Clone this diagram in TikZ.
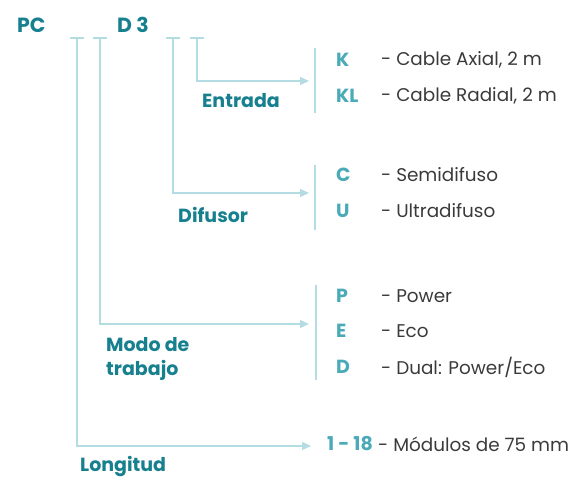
\documentclass[tikz,border=0pt]{standalone}
\usepackage{fontspec}
\setmainfont{Poppins}
\usetikzlibrary{arrows.meta}
\definecolor{tealdark}{HTML}{17808F}
\definecolor{teallight}{HTML}{4AAAB8}
\definecolor{linkblue}{HTML}{B3DCE3}
\definecolor{textgray}{HTML}{3A3A3A}

\begin{document}
\begin{tikzpicture}[x=1pt,y=-1pt,
        link/.style={linkblue,line width=1.4pt},
        linkarrow/.style={link,-{Triangle[length=9pt,width=8pt]}},
        head/.style={anchor=west,inner sep=0pt,font=\fontsize{20.5}{24}\selectfont\bfseries,text=tealdark},
        label/.style={anchor=west,inner sep=0pt,font=\fontsize{19}{24}\selectfont\bfseries,text=tealdark,align=left},
        code/.style={anchor=west,inner sep=0pt,font=\fontsize{19}{23}\selectfont\bfseries,text=teallight},
        desc/.style={anchor=west,inner sep=0pt,font=\fontsize{18.4}{23}\selectfont,text=textgray}]
                    \useasboundingbox (0,0) rectangle (576,479);
                    % code
                    \node[head] (pc) at (17,25) {PC};
                    \node[head] (dtres) at (117,25) {D 3};
                    % underscores
                    \foreach \name/\x in {lon/77,modo/100,dif/173,ent/197} {
                        \coordinate (\name) at (\x,38);
                        \draw[link] ([xshift=-7pt]\name) -- ([xshift=7pt]\name);
                    }
                    % arrow ends
                    \coordinate (entend) at (309,81);
                    \coordinate (difend) at (309,193);
                    \coordinate (modoend) at (309,324);
                    \coordinate (lonend) at (311,446);
                    \draw[linkarrow] (ent) |- (entend);
                    \draw[linkarrow] (dif) |- (difend);
                    \draw[linkarrow] (modo) |- (modoend);
                    \draw[linkarrow] (lon) |- (lonend);
                    % labels
                    \node[label] (entrada) at (202,101) {Entrada};
                    \node[label] (difusor) at (178,215) {Difusor};
                    \node[label] (modotrab) at (106,359) {Modo de\\trabajo};
                    \node[label] (longitud) at (80,466) {Longitud};
                    % brackets
                    \draw[link] (315,48) -- (315,113);
                    \draw[link] (315,165) -- (315,230);
                    \draw[link] (316,285) -- (316,380);
                    % options
                    \node[code] (k) at (336,60) {K};
                    \node[desc] (kdesc) at (381,60) {- Cable Axial, 2 m};
                    \node[code] (kl) at (336,96) {KL};
                    \node[desc] (kldesc) at (381,96) {- Cable Radial, 2 m};
                    \node[code] (c) at (336,175) {C};
                    \node[desc] (cdesc) at (381,175) {- Semidifuso};
                    \node[code] (u) at (336,211) {U};
                    \node[desc] (udesc) at (381,211) {- Ultradifuso};
                    \node[code] (p) at (336,296) {P};
                    \node[desc] (pdesc) at (381,296) {- Power};
                    \node[code] (e) at (336,331) {E};
                    \node[desc] (edesc) at (381,331) {- Eco};
                    \node[code] (d) at (336,367) {D};
                    \node[desc] (ddesc) at (381,367) {- Dual: Power/Eco};
                    \node[code] (len) at (327,444) {1 - 18};
                    \node[desc] (lendesc) at (378,444) {- Módulos de 75 mm};
\end{tikzpicture}
\end{document}
